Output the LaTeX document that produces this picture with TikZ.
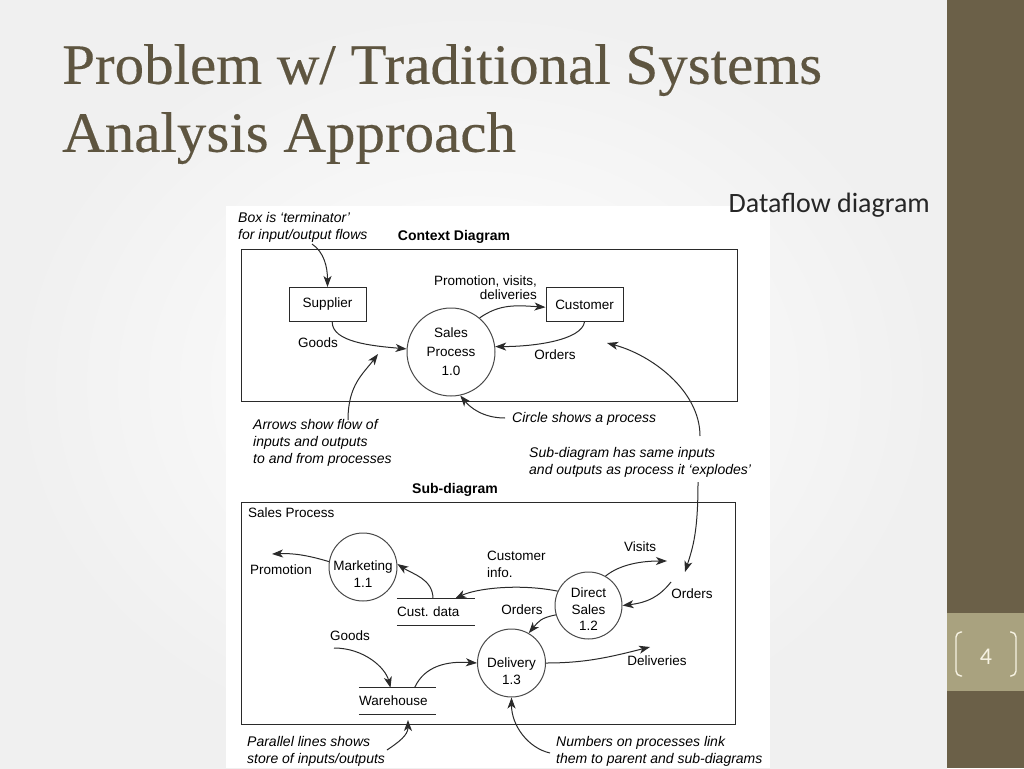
\documentclass[tikz,border=0pt]{standalone}
\usepackage{fontspec}
\setmainfont{Liberation Serif}
\newfontfamily\titlefont{Liberation Serif}[FakeStretch=1.035, FakeBold=0.3]
\newfontfamily\dfdfont{Liberation Sans}
\newfontfamily\slidefont{Carlito}
\usetikzlibrary{arrows.meta}
\usepackage{xcolor}
\definecolor{barbrown}{HTML}{6B6048}
\definecolor{numbox}{HTML}{A9A27F}
\definecolor{titlebrown}{HTML}{5E5540}
\definecolor{cream}{HTML}{F6F2E2}
\definecolor{dfdline}{HTML}{2A2A2A}

\begin{document}
\begin{tikzpicture}[x=1pt, y=-1pt,
  >={Stealth[length=11pt,width=8pt,inset=3pt]},
  flow/.style={->, dfdline, line width=1pt},
  frame/.style={draw=dfdline, line width=1pt, inner sep=0pt},
  termbox/.style={draw=dfdline, line width=1pt, minimum width=77pt, minimum height=34pt, inner sep=0pt, font=\dfdfont\fontsize{13.5}{16}\selectfont},
  proc/.style={circle, draw=dfdline!85, line width=1pt, inner sep=0pt},
  lbl/.style={inner sep=0pt, align=center, font=\dfdfont\fontsize{13.5}{17}\selectfont},
  note/.style={inner sep=0pt, anchor=west, align=left, font=\dfdfont\itshape\fontsize{14}{17}\selectfont},
  heading/.style={inner sep=0pt, font=\dfdfont\bfseries\fontsize{14}{17}\selectfont},
  store/.style={inner sep=0pt, minimum height=26pt, text width=78pt, align=left, font=\dfdfont\fontsize{13.5}{16}\selectfont}]
\useasboundingbox (0,0) rectangle (1024,768);
% slide
\shade[inner color=white, outer color=black!6] (0,0) rectangle (947,768);
\fill[white] (226,206) rectangle (770,768);
\fill[barbrown] (947,0) rectangle (1024,768);
\fill[numbox] (947,613) rectangle (1024,691);
\draw[cream, line width=1.4pt, rounded corners=5pt] (962,632) -- (956,632) -- (956,676) -- (962,676);
\draw[cream, line width=1.4pt, rounded corners=5pt] (1010,632) -- (1016,632) -- (1016,676) -- (1010,676);
\node[text=cream, inner sep=0pt, font=\slidefont\fontsize{24}{28}\selectfont] (pagenum) at (986,657) {4};
\node[anchor=north west, align=left, inner sep=0pt, text=titlebrown, font=\titlefont\fontsize{57}{68}\selectfont] (title) at (62,44) {Problem w/ Traditional Systems\\Analysis Approach};
\node[anchor=base east, inner sep=0pt, text=black!85, font=\slidefont\fontsize{28}{34}\selectfont] (caption) at (930,212) {Dataflow diagram};

% context diagram
\node[heading] (ctxhead) at (454,237) {Context Diagram};
\node[frame, minimum width=496pt, minimum height=152pt] (ctxframe) at (489,325) {};
\node[termbox] (supplier) at (327.5,304.5) {Supplier};
\node[termbox] (customer) at (584.5,304.5) {Customer};
\node[proc, minimum size=88pt, lbl, font=\dfdfont\fontsize{13.5}{19}\selectfont] (salesproc) at (451,352) {Sales\\Process\\1.0};
\node[lbl, anchor=east, align=right, font=\dfdfont\fontsize{13.5}{14}\selectfont] (promolbl) at (537,288) {Promotion, visits,\\deliveries};
\node[lbl] (goodslbl) at (318,343) {Goods};
\node[lbl] (orderslbl) at (555,355) {Orders};
\node[note] (termnote) at (238,227) {Box is ‘terminator’\\for input/output flows};
\node[note] (flownote) at (253,443) {Arrows show flow of\\inputs and outputs\\to and from processes};
\node[note] (circnote) at (512,419) {Circle shows a process};
\node[note] (subnote) at (529,462) {Sub-diagram has same inputs\\and outputs as process it ‘explodes’};

\coordinate (termtail) at (312,244);
\coordinate (flowtail) at (348,420);
\coordinate (flowtip) at (378,354);
\coordinate (circtail) at (505,418);
\coordinate (subtail) at (700,436);
\coordinate (subtip) at (607,343);
\draw[flow] (termtail) .. controls +(12,8) and +(0,-20) .. (supplier.north);
\draw[flow] (supplier.-75) .. controls +(0,20) and +(-35,-3) .. (salesproc.176);
\draw[flow] (salesproc.50) .. controls +(20,-14) and +(-30,-2) .. (customer.184);
\draw[flow] (customer.south) .. controls +(-3,18) and +(40,0) .. (salesproc.7);
\draw[flow] (flowtail) .. controls +(0,-35) and +(-15,20) .. (flowtip);
\draw[flow] (circtail) .. controls +(-22,0) and +(10,12) .. (salesproc.-78);
\draw[flow] (subtail) .. controls +(0,-45) and +(45,12) .. (subtip);

% sub-diagram
\node[heading] (subhead) at (455,490) {Sub-diagram};
\node[frame, minimum width=494pt, minimum height=222pt] (subframe) at (488,613) {};
\node[lbl, anchor=west] (salesname) at (248,513) {Sales Process};
\node[proc, minimum size=68pt, label={[lbl, yshift=-7pt]center:Marketing\\1.1}] (mkt) at (363,567) {};
\node[proc, minimum size=67pt, label={[lbl, yshift=-4pt, font=\dfdfont\fontsize{13.5}{16.5}\selectfont]center:Direct\\Sales\\1.2}] (dsales) at (588.5,605.5) {};
\node[proc, minimum size=68pt, label={[lbl, yshift=-8pt]center:Delivery\\1.3}] (deliv) at (511.5,663) {};
\node[store] (custdata) at (436,612) {Cust.\ data};
\node[store, text width=77pt] (whouse) at (397.5,701) {Warehouse};
\draw[dfdline, line width=1pt] (custdata.north west) -- (custdata.north east) (custdata.south west) -- (custdata.south east);
\draw[dfdline, line width=1pt] (whouse.north west) -- (whouse.north east) (whouse.south west) -- (whouse.south east);
\node[lbl] (promotion) at (281,570) {Promotion};
\node[lbl, anchor=west, align=left] (custinfo) at (487,564) {Customer\\info.};
\node[lbl] (ordersin) at (522,610) {Orders};
\node[lbl] (visits) at (640,547) {Visits};
\node[lbl] (ordersout) at (692,594) {Orders};
\node[lbl] (goods) at (350,636) {Goods};
\node[lbl] (deliveries) at (657,661) {Deliveries};
\node[note] (storenote) at (247,751) {Parallel lines shows\\store of inputs/outputs};
\node[note] (numnote) at (556,751) {Numbers on processes link\\them to parent and sub-diagrams};

\coordinate (promotip) at (272,554);
\coordinate (visitstip) at (667,561);
\coordinate (orderstail) at (671,582);
\coordinate (explodetail) at (698,482);
\coordinate (explodetip) at (685,572);
\coordinate (delivtip) at (650,647);
\coordinate (goodstail) at (334,648);
\coordinate (storetail) at (387,750);
\coordinate (storetip) at (408,720);
\coordinate (numtail) at (550,753);
\draw[flow] (mkt.171) .. controls +(-20,-6) and +(22,-1) .. (promotip);
\draw[flow] ([xshift=-3pt]custdata.north) .. controls +(0,-20) and +(15,10) .. (mkt.5);
\draw[flow] (dsales.155) .. controls +(-40,-8) and +(20,-10) .. ([xshift=19pt]custdata.north);
\draw[flow] (dsales.60) .. controls +(15,-12) and +(-25,0) .. (visitstip);
\draw[flow] (orderstail) .. controls +(-12,15) and +(25,-3) .. (dsales.east);
\draw[flow] (explodetail) .. controls +(0,50) and +(8,-25) .. (explodetip);
\draw[flow] (dsales.196) .. controls +(-15,3) and +(10,-12) .. (deliv.60);
\draw[flow] (deliv.east) .. controls +(40,0) and +(-40,10) .. (delivtip);
\draw[flow] (goodstail) .. controls +(30,0) and +(-5,-20) .. ([xshift=-7pt]whouse.north);
\draw[flow] ([xshift=17pt]whouse.north) .. controls +(10,-22) and +(-30,-2) .. (deliv.west);
\draw[flow] (storetail) .. controls +(12,-8) and +(0,15) .. (storetip);
\draw[flow] (numtail) .. controls +(-22,-5) and +(0,28) .. (deliv.south);
\end{tikzpicture}
\end{document}
